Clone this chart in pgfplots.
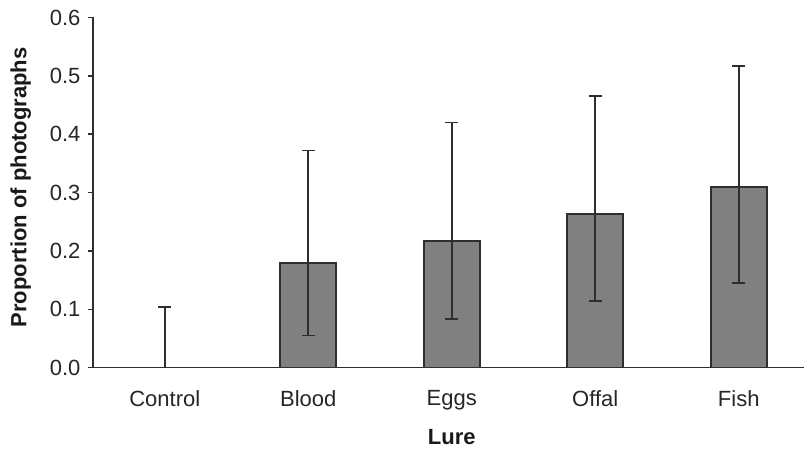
\documentclass[border=0pt]{standalone}
\usepackage{fontspec}
\setmainfont{Liberation Sans}
\usepackage{pgfplots}
\pgfplotsset{compat=1.18}
\definecolor{barfill}{HTML}{808080}
\definecolor{edge}{HTML}{2E2E2E}
\begin{document}
\begin{tikzpicture}
\useasboundingbox (-93pt,-84.3pt) rectangle (711pt,367.7pt);
\begin{axis}[
  scale only axis,
  width=717.5pt, height=350.2pt,
  xmin=-0.5, xmax=4.5,
  ymin=0, ymax=0.6,
  axis x line=bottom, axis y line=left,
  axis line style={-, edge, line width=1.6pt},
  xtick={0,1,2,3,4},
  xticklabels={Control,Blood,Eggs,Offal,Fish},
  minor xtick={0.5,1.5,2.5,3.5,4.5},
  xtick style={draw=none},
  minor x tick style={edge, line width=1.6pt},
  ytick={0,0.1,0.2,0.3,0.4,0.5,0.6},
  y tick style={edge, line width=1.6pt},
  tick align=outside,
  major tick length=5pt, minor tick length=5pt,
  /pgf/number format/assume math mode=true,
  yticklabel style={xshift=-4pt, /pgf/number format/.cd, fixed, fixed zerofill, precision=1},
  xticklabel style={yshift=-14pt},
  ticklabel style={font=\fontsize{22}{26}\selectfont, color=black!85},
  label style={font=\fontsize{22}{26}\selectfont\bfseries, color=black!90},
  xlabel={Lure},
  xlabel style={yshift=-13pt},
  ylabel={Proportion of photographs},
  ylabel style={at={(ticklabel cs:0.515,12pt)}},
  ybar, bar width=56pt,
]
\addplot[fill=barfill, draw=edge, line width=1.6pt,
  error bars/.cd, y dir=both, y explicit,
  error bar style={edge, line width=1.6pt},
  error mark options={edge, line width=1.6pt, mark size=6.5pt, rotate=90}]
coordinates {
  (0,0)     += (0,0.1035) -= (0,0)
  (1,0.179) += (0,0.193)  -= (0,0.124)
  (2,0.217) += (0,0.203)  -= (0,0.134)
  (3,0.263) += (0,0.202)  -= (0,0.149)
  (4,0.310) += (0,0.207)  -= (0,0.165)
};
\end{axis}
\end{tikzpicture}
\end{document}
